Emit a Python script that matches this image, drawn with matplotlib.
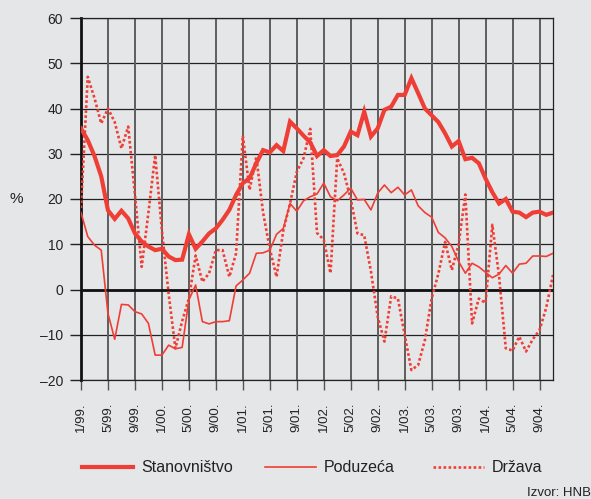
#================================================================================
# Kredit growth chart: Stanovnistvo / Poduzeca / Drzava, 1/99 - 11/04
#================================================================================

import numpy as np
import matplotlib
matplotlib.use("Agg")
import matplotlib.pyplot as plt
from matplotlib.lines import Line2D

#================================================================================
# Data (annual rate of change, %), monthly from 1/99 to 11/04

stanovnistvo = [
    35.6, 33.0, 29.5, 25.0, 17.5, 15.6, 17.4, 15.7, 12.4, 10.6, 9.5, 8.7,
    9.0, 7.3, 6.5, 6.6, 12.2, 9.0, 10.6, 12.4, 13.5, 15.4, 17.6, 20.9,
    23.5, 24.6, 27.9, 30.8, 30.3, 31.9, 30.6, 37.1, 35.6, 34.0, 32.5, 29.5,
    30.8, 29.5, 29.7, 31.6, 34.9, 34.1, 39.3, 33.8, 35.6, 39.7, 40.4, 43.0,
    43.0, 46.7, 43.4, 40.0, 38.5, 37.0, 34.5, 31.6, 32.8, 28.8, 29.1, 27.9,
    24.5, 21.5, 19.0, 20.0, 17.2, 17.0, 16.0, 17.0, 17.2, 16.5, 17.0,
]

poduzeca = [
    17.0, 11.7, 9.8, 8.7, -5.3, -11.0, -3.3, -3.4, -4.9, -5.4, -7.5, -14.5,
    -14.5, -12.3, -13.1, -12.8, -2.3, 1.0, -7.1, -7.6, -7.1, -7.1, -6.9, 0.8,
    2.1, 3.6, 8.0, 8.1, 8.7, 12.2, 13.5, 19.0, 17.3, 19.6, 20.5, 21.1,
    23.5, 20.5, 19.6, 20.9, 22.4, 19.8, 19.9, 17.6, 21.3, 23.1, 21.4, 22.6,
    20.9, 22.0, 18.5, 17.0, 16.0, 12.6, 11.4, 9.5, 6.2, 3.6, 5.8, 5.0,
    3.8, 2.6, 3.4, 5.3, 3.6, 5.6, 5.8, 7.4, 7.4, 7.3, 8.0,
]

drzava = [
    18.0, 47.0, 42.3, 36.7, 40.0, 37.0, 31.2, 36.0, 21.0, 5.0, 17.0, 29.7,
    13.0, -1.0, -13.0, -7.0, -2.0, 7.5, 1.7, 3.6, 8.7, 8.7, 2.8, 8.0,
    34.0, 22.0, 29.3, 17.0, 9.0, 2.8, 13.0, 19.0, 26.0, 29.0, 35.5, 12.5,
    11.0, 3.6, 29.0, 25.7, 20.0, 12.4, 12.0, 4.0, -6.0, -11.5, -1.5, -2.0,
    -10.0, -17.8, -16.7, -11.2, -2.0, 3.5, 10.5, 4.3, 10.0, 21.0, -7.5, -2.0,
    -3.0, 14.3, 3.0, -13.0, -13.5, -10.4, -13.7, -11.0, -9.0, -4.0, 3.2,
]

x_labels = ["1/99.", "5/99.", "9/99.", "1/00.", "5/00.", "9/00.", "1/01.",
            "5/01.", "9/01.", "1/02.", "5/02.", "9/02.", "1/03.", "5/03.",
            "9/03.", "1/04.", "5/04.", "9/04."]
y_ticks = [-20, -10, 0, 10, 20, 30, 40, 50, 60]
y_labels = ["\u201320", "\u201310", "0", "10", "20", "30", "40", "50", "60"]

legend_names = ["Stanovništvo", "Poduzeća", "Država"]

#================================================================================
# Style

bg = "#e5e6e8"
red = "#ef3e36"
plt.rcParams["font.family"] = ["Liberation Sans", "DejaVu Sans"]

#================================================================================
# Plot

months = np.arange(len(stanovnistvo))

fig = plt.figure(figsize=(5.91, 4.99), dpi=100, facecolor=bg)
ax = fig.add_axes([81 / 591, 1 - 380 / 499, 472 / 591, 362 / 499])
ax.set_facecolor(bg)

ax.plot(months, drzava, color=red, lw=1.9, ls=(0, (1, 0.9)), zorder=3)
ax.plot(months, poduzeca, color=red, lw=1.2, zorder=4)
ax.plot(months, stanovnistvo, color=red, lw=3.0, zorder=5,
        solid_joinstyle="miter")

ax.set_xlim(0, len(stanovnistvo) - 1)
ax.set_ylim(-20, 60)

ax.set_xticks(months[::4])
ax.set_xticklabels(x_labels, rotation=90, fontsize=9.5, color="#222222")
ax.set_yticks(y_ticks)
ax.set_yticklabels(y_labels, fontsize=10, color="#222222")

ax.tick_params(axis="x", length=7, width=1.0, color="#555555", pad=9)
ax.tick_params(axis="y", length=8, width=1.0, color="#222222", pad=5)

# grid: dark horizontal, grey vertical
for yv in y_ticks:
    ax.axhline(yv, color="#222222", lw=0.9, zorder=1)
for xv in months[::4]:
    ax.axvline(xv, color="#5e5e5e", lw=1.4, zorder=1)
ax.axhline(0, color="#111111", lw=2.0, zorder=2)

for side in ["top", "right", "bottom"]:
    ax.spines[side].set_color("#222222")
    ax.spines[side].set_linewidth(0.9)
ax.spines["left"].set_color("#111111")
ax.spines["left"].set_linewidth(2.0)

fig.text(9 / 591, 1 - 199 / 499, "%", fontsize=11, color="#222222",
         va="center", ha="left")

# legend along the bottom
leg_y = 1 - 467 / 499
styles = [dict(lw=3.0), dict(lw=1.2), dict(lw=1.9, ls=(0, (1, 0.9)))]
starts = [82, 265, 433]
for name, st, x0 in zip(legend_names, styles, starts):
    fig.add_artist(Line2D([x0 / 591, (x0 + 51) / 591], [leg_y, leg_y],
                          color=red, **st))
    fig.text((x0 + 59) / 591, leg_y, name, fontsize=11.5, color="#222222",
             va="center", ha="left")

fig.text(527 / 591, 1 - 493 / 499, "Izvor: HNB", fontsize=9.5,
         color="#222222", va="center", ha="left")

fig.savefig("out.png", dpi=100, facecolor=bg)
